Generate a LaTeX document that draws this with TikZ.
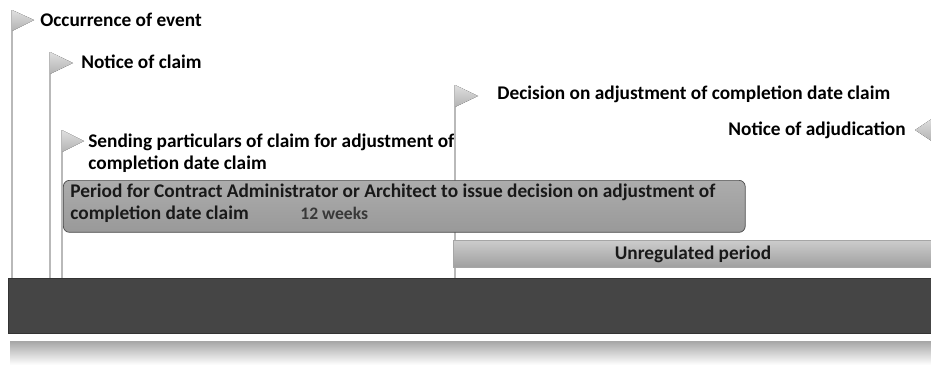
\documentclass[tikz,border=0pt]{standalone}
\usepackage{fontspec}
\setmainfont{Carlito}
\usetikzlibrary{positioning}

\begin{document}
\begin{tikzpicture}[x=0.02cm, y=-0.02cm,
  label/.style={font=\fontsize{11}{12.5}\selectfont\bfseries, inner sep=0pt, align=left},
  pole/.style={draw=gray!55, line width=0.9pt},
  flag/.style={top color=gray!25, bottom color=gray!60, draw=none},
  periodbar/.style={draw=gray!60!black, line width=0.4pt, top color=gray!65, bottom color=gray!80, rounded corners=3.5pt, inner sep=0pt, anchor=north west},
  freebar/.style={draw=gray!70, line width=0.4pt, top color=gray!40, bottom color=gray!75, inner sep=0pt, anchor=north west},
  basebar/.style={draw=black!80, line width=0.6pt, fill=black!73, inner sep=0pt, anchor=north west}]
\useasboundingbox (0,0) rectangle (931,365);

% timeline base and its reflection
\node [basebar, minimum width=18.5cm, minimum height=1.1cm] (base) at (8,278) {};
\fill [top color=gray!70, bottom color=white] (10,341) rectangle (935,365);

% flag points
\coordinate (evt) at (12,10);
\coordinate (ntc) at (50,52);
\coordinate (snd) at (62,130);
\coordinate (dec) at (455,85);
\coordinate (adj) at (933,118);

% poles
\draw [pole] (evt) -- (evt |- base.north);
\draw [pole] (ntc) -- (ntc |- base.north);
\draw [pole] (snd) -- (snd |- base.north);
\draw [pole] (dec) -- (dec |- base.north);

% flags
\fill [flag] (evt) -- ++(22,10) -- ++(-22,11) -- cycle;
\fill [flag] (ntc) -- ++(23,11) -- ++(-23,11) -- cycle;
\fill [flag] (snd) -- ++(22,11) -- ++(-22,11) -- cycle;
\fill [flag] (dec) -- ++(23,11) -- ++(-23,11) -- cycle;
\fill [flag] (adj) -- ++(-18,12) -- ++(18,12) -- cycle;

% flag texts
\node [label, anchor=west] (evtlbl) at (40,20) {Occurrence of event};
\node [label, anchor=west] (ntclbl) at (81,62) {Notice of claim};
\node [label, anchor=north west] (sndlbl) at (88,134)
  {Sending particulars of claim for adjustment of\\completion date claim};
\node [label, anchor=west] (declbl) at (497,94) {Decision on adjustment of completion date claim};
\node [label, anchor=east] (adjlbl) at (906,130) {Notice of adjudication};

% period for decision
\node [periodbar, minimum width=13.64cm, minimum height=1.04cm] (period) at (63,180) {};
\node [label, anchor=north west, text=black!90] (periodlbl) at (70,184)
  {Period for Contract Administrator or Architect to issue decision on adjustment of\\completion date claim};
\node [label, anchor=west, text=black!78, font=\fontsize{10}{12}\selectfont\bfseries] (weeks) at (300,213) {12 weeks};

% unregulated period
\node [freebar, minimum width=9.7cm, minimum height=0.54cm] (free) at (453,240) {};
\node [label, text=black!90] (freelbl) at (693,254) {Unregulated period};
\end{tikzpicture}
\end{document}
